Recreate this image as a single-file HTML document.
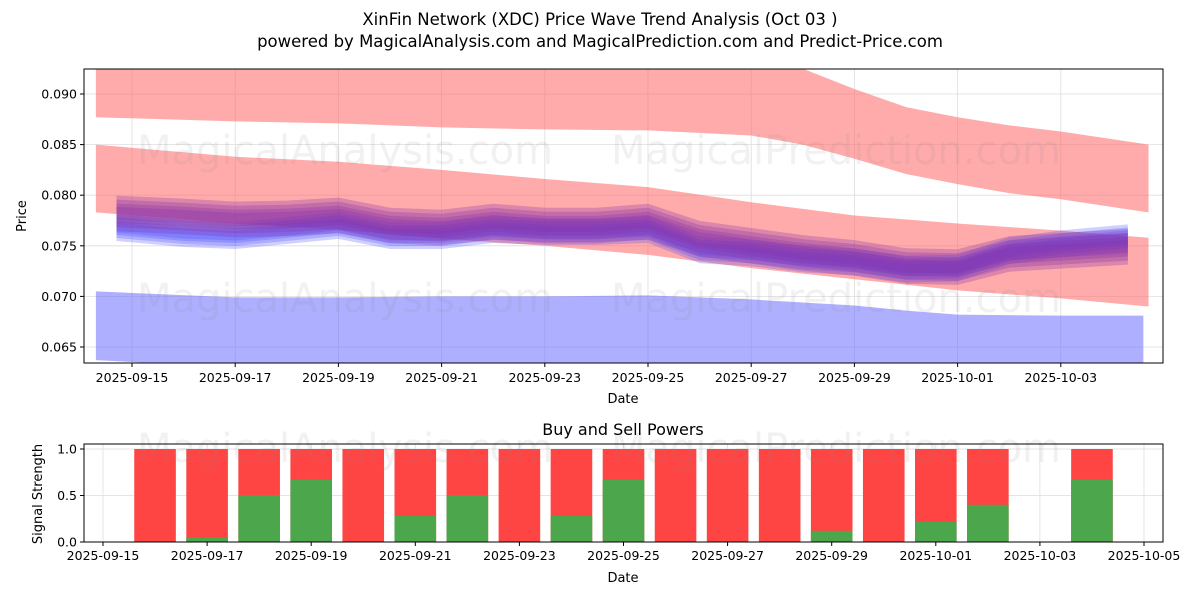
<!DOCTYPE html>
<html><head><meta charset="utf-8"><style>
body{margin:0;background:#fff;font-family:"DejaVu Sans","Liberation Sans",sans-serif;}
svg text{font-family:"DejaVu Sans","Liberation Sans",sans-serif;}
</style></head><body>
<svg id="c" width="1200" height="600" xmlns="http://www.w3.org/2000/svg">
<rect width="1200" height="600" fill="#fff"/>
<text x="600" y="25" font-size="16.5" text-anchor="middle">XinFin Network (XDC) Price Wave Trend Analysis (Oct 03 )</text>
<text x="600" y="47" font-size="16.5" text-anchor="middle">powered by MagicalAnalysis.com and MagicalPrediction.com and Predict-Price.com</text>
<defs><clipPath id="cp"><rect x="84" y="69" width="1079" height="294"/></clipPath></defs>
<g id="topG"></g><g id="botG"></g>
</svg>
<script>
// ---- data (top chart), x in days since 2025-09-15 ----
const upperRedX=[-0.7,2,4,6,8,10,12,13,14,15,16,17,18,19.7];
const upperRedTop=[0.094,0.094,0.094,0.094,0.094,0.094,0.094,0.0925,0.0905,0.0887,0.0877,0.0869,0.0863,0.0850];
const upperRedBot=[0.0877,0.0873,0.0871,0.0867,0.0865,0.0864,0.0859,0.0850,0.0836,0.0821,0.0811,0.0802,0.0796,0.0783];
const midRedX=[-0.7,2,4,6,8,10,12,14,16,18,19.7];
const midRedTop=[0.0850,0.0838,0.0833,0.0825,0.0816,0.0808,0.0793,0.0780,0.0772,0.0765,0.0758];
const midRedBot=[0.0783,0.0772,0.0766,0.0757,0.0750,0.0741,0.0728,0.0717,0.0706,0.0698,0.0690];
const blueX=[-0.7,2,4,6,8,10,12,14,15,16,18,19.6];
const blueTop=[0.0705,0.0699,0.0699,0.0700,0.0700,0.0701,0.0697,0.0691,0.0686,0.0682,0.0681,0.0681];
const blueBot=[0.0637,0.0630,0.0630,0.0630,0.0630,0.0630,0.0630,0.0630,0.0630,0.0630,0.0630,0.0630];
const waveX=[-0.3,1,2,3,4,5,6,7,8,9,10,11,12,13,14,15,16,17,18,19.3];
const waveC=[0.0782,0.0779,0.0776,0.0777,0.0780,0.0770,0.0768,0.0774,0.0770,0.0770,0.0774,0.0757,0.0750,0.0743,0.0738,0.0730,0.0729,0.0742,0.0745,0.0749];
const waveBlue=[0.0768,0.0762,0.0760,0.0765,0.0770,0.0760,0.0760,0.0766,0.0764,0.0764,0.0766,0.0746,0.0743,0.0737,0.0734,0.0727,0.0728,0.0745,0.0752,0.0758];
const layerSpread=[0.0022,0.0017,0.0012,0.0008];
const yTicks=[0.065,0.070,0.075,0.080,0.085,0.090];
const xTickLabels=["2025-09-15","2025-09-17","2025-09-19","2025-09-21","2025-09-23","2025-09-25","2025-09-27","2025-09-29","2025-10-01","2025-10-03"];
// ---- data (bottom chart), days since 2025-09-15 ----
const barDays=[1,2,3,4,5,6,7,8,9,10,11,12,13,14,15,16,17,19];
const buyPower=[0,0.05,0.5,0.67,0,0.28,0.5,0,0.28,0.67,0,0,0,0.12,0,0.22,0.4,0.67];
const botXTicks=["2025-09-15","2025-09-17","2025-09-19","2025-09-21","2025-09-23","2025-09-25","2025-09-27","2025-09-29","2025-10-01","2025-10-03","2025-10-05"];
const botYTicks=[0,0.5,1.0];

const NS="http://www.w3.org/2000/svg";
function mk(p,t,a){const e=document.createElementNS(NS,t);for(const k in a)e.setAttribute(k,a[k]);p.appendChild(e);return e;}
const L=84,R=1163,T=69,B=363;
const X=d=>132+d*51.6, Y=v=>94+(0.090-v)/0.005*50.6;
const topG=document.getElementById('topG');
yTicks.forEach(v=>{const l=mk(topG,'line',{x1:L,x2:R,y1:Y(v),y2:Y(v),stroke:'#ddd','stroke-width':0.8});

});
xTickLabels.forEach((s,i)=>{const l=mk(topG,'line',{x1:X(i*2),x2:X(i*2),y1:T,y2:B,stroke:'#ddd','stroke-width':0.8});

});
const g=mk(topG,'g',{'clip-path':'url(#cp)'});
function band(xs,tp,bt,fill,op,name){
 let d='M'+xs.map((x,i)=>X(x)+','+Y(tp[i])).join('L');
 for(let i=xs.length-1;i>=0;i--)d+='L'+X(xs[i])+','+Y(bt[i]);
 const p=mk(g,'path',{d:d+'Z',fill:fill,'fill-opacity':op});
 
 
}
band(upperRedX,upperRedTop,upperRedBot,'#ff6666',0.55,'upper-red-band');
band(midRedX,midRedTop,midRedBot,'#ff6666',0.55,'middle-red-band');
band(blueX,blueTop,blueBot,'#6666ff',0.52,'blue-band');
[[345,150,'MagicalAnalysis.com'],[836,150,'MagicalPrediction.com'],[345,298,'MagicalAnalysis.com'],[836,298,'MagicalPrediction.com']].forEach(w=>{
 const t=mk(g,'text',{x:w[0],y:w[1]+14,'font-size':40,'text-anchor':'middle',fill:'#888','fill-opacity':0.12});t.textContent=w[2];
 
 
});
layerSpread.forEach(s=>band(waveX,waveBlue.map(v=>v+s*0.6),waveBlue.map(v=>v-s*0.6),'#4444ff',0.25,'blue-wave-layer'));
layerSpread.forEach(s=>band(waveX,waveC.map(v=>v+s*0.8),waveC.map(v=>v-s*0.8),'#8833aa',0.3,'purple-wave-layer'));
mk(topG,'rect',{x:L,y:T,width:R-L,height:B-T,fill:'none',stroke:'#000','stroke-width':1});
yTicks.forEach(v=>{mk(topG,'line',{x1:L-4,x2:L,y1:Y(v),y2:Y(v),stroke:'#000'});
 const t=mk(topG,'text',{x:L-7,y:Y(v)+4.5,'font-size':12.5,'text-anchor':'end'});t.textContent=v.toFixed(3);
 
 });
xTickLabels.forEach((s,i)=>{mk(topG,'line',{x1:X(i*2),x2:X(i*2),y1:B,y2:B+4,stroke:'#000'});
 const t=mk(topG,'text',{x:X(i*2),y:B+19,'font-size':12.5,'text-anchor':'middle'});t.textContent=s;
 
 });
let t=mk(topG,'text',{x:623,y:403,'font-size':13,'text-anchor':'middle'});t.textContent='Date';

t=mk(topG,'text',{x:26,y:216,'font-size':13,'text-anchor':'middle',transform:'rotate(-90 26 216)'});t.textContent='Price';


const botG=document.getElementById('botG');
const bT=444,bB=542;
const BX=d=>103+d*52.05, BY=v=>542-v*93;
botYTicks.forEach(v=>{mk(botG,'line',{x1:L,x2:R,y1:BY(v),y2:BY(v),stroke:'#ddd','stroke-width':0.8});});
botXTicks.forEach((s,i)=>{mk(botG,'line',{x1:BX(i*2),x2:BX(i*2),y1:bT,y2:bB,stroke:'#ddd','stroke-width':0.8});});
barDays.forEach((d,i)=>{
 const x=BX(d)-20.8;
 const r=mk(botG,'rect',{x:x,y:BY(1),width:41.6,height:BY(0)-BY(1),fill:'#ff4444'});
 
 
 const gr=mk(botG,'rect',{x:x,y:BY(buyPower[i]),width:41.6,height:BY(0)-BY(buyPower[i]),fill:'#4ca64c'});
 
 
});
[[345,'MagicalAnalysis.com'],[836,'MagicalPrediction.com']].forEach(w=>{
 const t=mk(botG,'text',{x:w[0],y:462,'font-size':40,'text-anchor':'middle',fill:'#888','fill-opacity':0.12});t.textContent=w[1];
 });
mk(botG,'rect',{x:L,y:bT,width:R-L,height:bB-bT,fill:'none',stroke:'#000','stroke-width':1});
botYTicks.forEach(v=>{mk(botG,'line',{x1:L-4,x2:L,y1:BY(v),y2:BY(v),stroke:'#000'});
 const t=mk(botG,'text',{x:L-7,y:BY(v)+4.5,'font-size':12.5,'text-anchor':'end'});t.textContent=v.toFixed(1);
 });
botXTicks.forEach((s,i)=>{mk(botG,'line',{x1:BX(i*2),x2:BX(i*2),y1:bB,y2:bB+4,stroke:'#000'});
 const t=mk(botG,'text',{x:BX(i*2),y:bB+18,'font-size':12.5,'text-anchor':'middle'});t.textContent=s;
 });
t=mk(botG,'text',{x:623,y:435,'font-size':16,'text-anchor':'middle'});t.textContent='Buy and Sell Powers';

t=mk(botG,'text',{x:623,y:582,'font-size':13,'text-anchor':'middle'});t.textContent='Date';

t=mk(botG,'text',{x:42,y:494,'font-size':13,'text-anchor':'middle',transform:'rotate(-90 42 494)'});t.textContent='Signal Strength';

</script>
</body></html>
